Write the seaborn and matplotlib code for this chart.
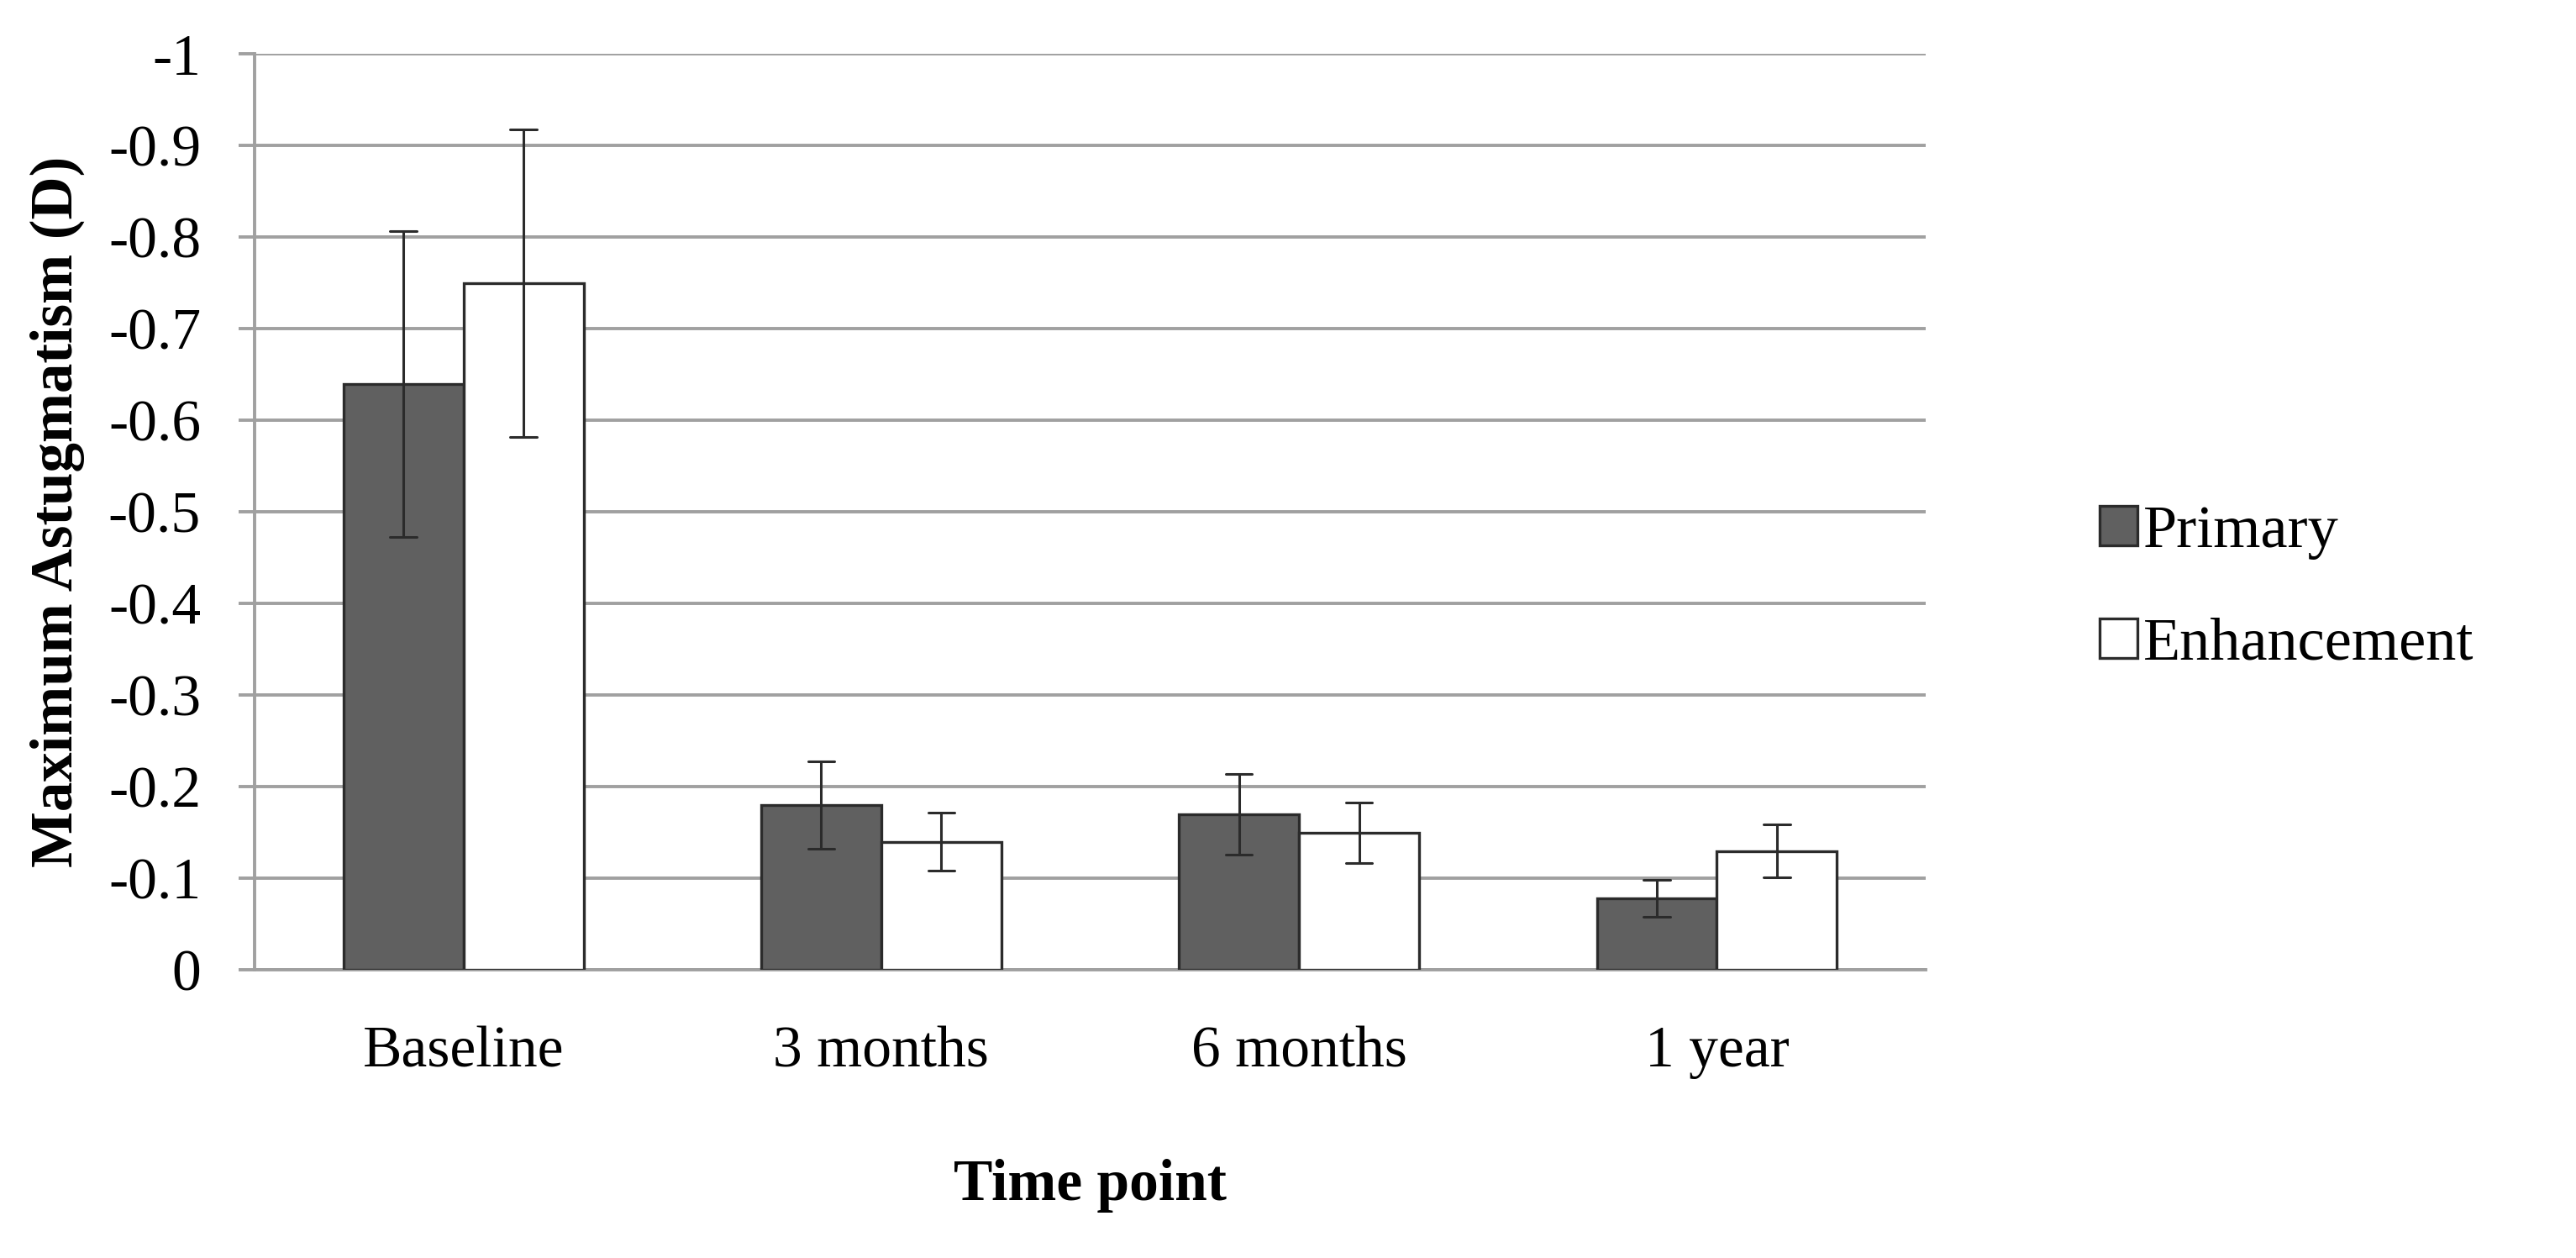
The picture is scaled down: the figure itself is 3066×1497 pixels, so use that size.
import matplotlib
matplotlib.use("Agg")
import matplotlib.pyplot as plt
from matplotlib.ticker import FuncFormatter
import numpy as np
import pandas as pd
import seaborn as sns

# values (diopters, negative)
time_points = ["Baseline", "3 months", "6 months", "1 year"]
groups = ["Primary", "Enhancement"]
primary_mean = [-0.64, -0.18, -0.17, -0.078]
enhancement_mean = [-0.75, -0.14, -0.15, -0.13]
primary_err = [0.167, 0.048, 0.044, 0.020]
enhancement_err = [0.168, 0.032, 0.033, 0.029]
y_ticks = [0, -0.1, -0.2, -0.3, -0.4, -0.5, -0.6, -0.7, -0.8, -0.9, -1]

df = pd.DataFrame({
    "Time point": time_points * 2,
    "Group": [groups[0]] * len(time_points) + [groups[1]] * len(time_points),
    "Value": primary_mean + enhancement_mean,
})
errors = {groups[0]: primary_err, groups[1]: enhancement_err}

sns.set_theme(style="white")
plt.rcParams["font.family"] = ["Liberation Serif", "DejaVu Serif"]
plt.rcParams["text.color"] = "black"
plt.rcParams["axes.labelcolor"] = "black"
plt.rcParams["xtick.color"] = "black"
plt.rcParams["ytick.color"] = "black"

grid_color = "#a0a0a0"
edge_color = "#2b2b2b"

fig = plt.figure(figsize=(15.33, 7.485), dpi=200)
ax = fig.add_axes([0.0988, 0.229, 0.6488, 0.728])

sns.barplot(data=df, x="Time point", y="Value", hue="Group", order=time_points,
            hue_order=groups, palette=["#606060", "#ffffff"], width=0.575,
            edgecolor=edge_color, linewidth=1.2, errorbar=None, legend=False,
            ax=ax, zorder=3)

for group, container in zip(groups, ax.containers):
    xs = [bar.get_x() + bar.get_width() / 2 for bar in container]
    ys = [bar.get_height() for bar in container]
    cap = container[0].get_width() * 0.11
    for x, y, e in zip(xs, ys, errors[group]):
        ax.plot([x, x], [y - e, y + e], color=edge_color, lw=1.1, zorder=4)
        ax.plot([x - cap, x + cap], [y - e, y - e], color=edge_color, lw=1.1, zorder=4)
        ax.plot([x - cap, x + cap], [y + e, y + e], color=edge_color, lw=1.1, zorder=4)

ax.set_ylim(0, -1)
ax.set_xlim(-0.5, len(time_points) - 0.5)
ax.set_yticks(y_ticks)
ax.yaxis.set_major_formatter(FuncFormatter(lambda v, p: "0" if v == 0 else f"{v:g}"))
ax.grid(axis="y", color=grid_color, linewidth=1.4, zorder=0)
ax.set_axisbelow(True)

for side in ["top", "right"]:
    ax.spines[side].set_visible(False)
for side in ["left", "bottom"]:
    ax.spines[side].set_color(grid_color)
    ax.spines[side].set_linewidth(1.4)

ax.tick_params(axis="y", which="major", length=7, width=1.4, color=grid_color,
               labelcolor="black", direction="out", pad=16, labelsize=25, left=True)
ax.tick_params(axis="x", length=0, pad=24, labelsize=25, labelcolor="black")

ax.set_xlabel("Time point", fontsize=25, fontweight="bold", labelpad=34)
ax.set_ylabel("Maximum Astugmatism (D)", fontsize=25.5, fontweight="bold", labelpad=10)

handles = [container[0] for container in ax.containers]
fig.legend(handles, groups, loc="center left", bbox_to_anchor=(0.815, 0.532),
           frameon=False, fontsize=26, handlelength=0.62, handleheight=0.62,
           handletextpad=0.1, labelspacing=0.95, borderpad=0, borderaxespad=0)

fig.savefig("out.png", dpi=200)
